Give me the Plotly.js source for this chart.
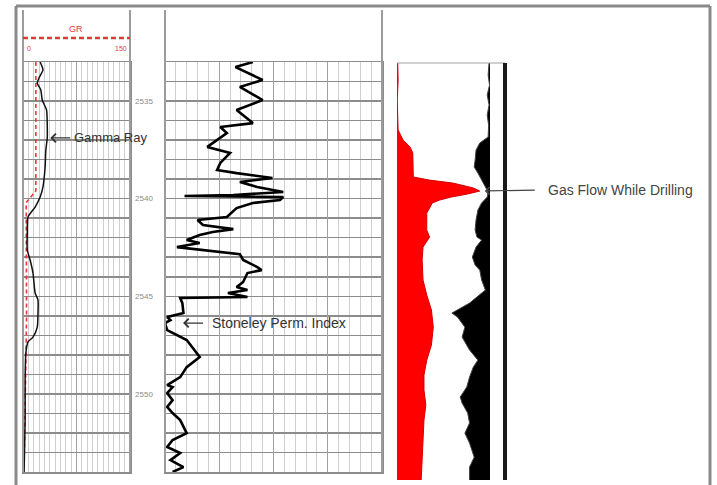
<!DOCTYPE html>
<html>
<head>
<meta charset="utf-8">
<script src="https://cdn.plot.ly/plotly-3.0.1.min.js"></script>
<style>
  html, body { margin: 0; padding: 0; background: #fff; }
  #log { width: 717px; height: 485px; }
</style>
</head>
<body>
<div id="log"></div>
<script>
// ---- Track 1: gamma ray (black) and its red dashed baseline ----
const grDepth = [2533.00, 2533.41, 2533.77, 2534.08, 2534.43, 2534.95, 2535.46, 2536.23, 2536.89, 2537.51,
  2538.38, 2539.40, 2539.92, 2540.43, 2540.94, 2541.76, 2542.63, 2543.14, 2543.81, 2544.83,
  2545.19, 2545.86, 2546.58, 2547.09, 2547.34, 2547.91, 2549.29, 2551.34, 2554.00];
const grValue = [24, 28, 23, 20, 25, 27, 33, 34, 34, 32,
  31, 28, 24, 17, 7, 6, 6, 10, 14, 17,
  21, 21, 20, 14, 7, 4, 3, 3, 1.5];
const grBaseDepth = [2533.0, 2539.6, 2540.2, 2546.0, 2554.0];
const grBaseValue = [18, 18, 4.5, 5, 1.5];

// ---- Track 2: Stoneley permeability index ----
const stDepth = [2533.00, 2533.26, 2533.92, 2534.28, 2534.95, 2535.46, 2536.13, 2536.33, 2536.64, 2537.35,
  2537.66, 2538.17, 2538.53, 2538.69, 2538.94, 2539.15, 2539.40, 2539.66, 2539.81, 2539.86,
  2539.92, 2540.07, 2540.22, 2540.48, 2540.94, 2541.09, 2541.35, 2541.45, 2541.56, 2541.71,
  2541.86, 2542.12, 2542.27, 2542.48, 2542.58, 2542.73, 2542.84, 2543.14, 2543.50, 2543.66,
  2543.81, 2544.27, 2544.53, 2544.68, 2544.83, 2545.04, 2545.09, 2545.35, 2545.86, 2546.06,
  2546.22, 2546.37, 2546.73, 2547.24, 2548.11, 2548.63, 2549.14, 2549.55, 2549.65, 2549.96,
  2550.32, 2550.67, 2550.98, 2551.34, 2552.01, 2552.36, 2552.72, 2553.03, 2553.39, 2553.75, 2554.00];
const stValue = [8.1, 6.5, 9.0, 6.9, 9.0, 6.6, 8.1, 5.1, 5.7, 3.9,
  6.0, 5.1, 4.8, 6.6, 9.9, 6.9, 8.5, 10.9, 6.3, 1.8,
  10.9, 10.6, 8.1, 6.6, 5.7, 3.0, 3.5, 5.1, 6.3, 4.4,
  3.2, 2.0, 3.2, 1.1, 2.6, 5.1, 6.9, 7.2, 8.5, 8.9,
  7.6, 7.2, 6.6, 7.6, 5.8, 7.6, 1.4, 1.6, 1.7, 0.2,
  0.5, 0.0, 0.2, 2.0, 3.2, 2.0, 1.4, 0.2, 0.7, 0.2,
  0.7, 0.2, 0.7, 1.4, 2.0, 0.7, 0.2, 1.4, 0.5, 1.7, 0.7];

// ---- Track 3: gas flow while drilling (red, from left) and companion curve (black, from right) ----
const gasDepth = [2533.05, 2533.92, 2534.95, 2535.97, 2536.48, 2537.00, 2537.35, 2537.66, 2538.53, 2538.89,
  2539.05, 2539.20, 2539.45, 2539.61, 2539.76, 2539.92, 2540.07, 2540.22, 2540.74, 2541.61,
  2541.97, 2542.48, 2543.14, 2544.17, 2544.94, 2545.70, 2546.58, 2547.50, 2548.27, 2549.03,
  2549.80, 2550.57, 2551.34, 2552.36, 2553.39, 2554.41];
const gasFlow = [0.8, 1.2, 0.3, 1.0, 1.2, 6.5, 14, 17, 17.5, 17.5,
  35, 60, 82, 89, 76, 58, 46, 38, 32, 32,
  35, 28, 27, 28, 32, 37, 39, 37, 32, 29,
  29, 31, 29, 28, 27, 26];
const bkDepth = [2533.05, 2533.67, 2534.18, 2534.69, 2535.20, 2535.72, 2536.23, 2536.84, 2537.15, 2537.51,
  2538.02, 2538.38, 2538.69, 2539.05, 2539.40, 2539.66, 2539.92, 2540.22, 2540.58, 2541.09,
  2541.61, 2541.97, 2542.12, 2542.48, 2542.99, 2543.40, 2543.66, 2544.17, 2544.68, 2545.35,
  2545.86, 2546.06, 2546.58, 2547.09, 2547.75, 2548.27, 2548.63, 2549.14, 2549.65, 2550.16,
  2550.47, 2550.98, 2551.49, 2552.01, 2552.52, 2553.24, 2553.75, 2554.41];
const bkValue = [1, 2, 0.5, 3, 1, 3, 1.5, 2, 11, 15,
  16, 17, 13, 9, 5, 2, 3, 9, 13, 15,
  16, 14, 9, 15, 19, 16, 11, 9, 5, 22,
  41, 35, 27, 30, 22, 13, 18, 22, 25, 32,
  30, 24, 22, 27, 22, 17, 22, 22];

// Text
const grLabel = 'Gamma Ray';
const stLabel = 'Stoneley Perm. Index';
const gasLabel = 'Gas Flow While Drilling';
const grUnit = 'GR';
const grScaleMin = '0';
const grScaleMax = '150';

// ---- page geometry (pixels) ----
const W = 717, H = 485;
const fx = p => p / W;
const fy = p => 1 - p / H;
const gridTop = 62, gridBot = 472, headTop = 10;
const depthTop = 2533, depthBot = 2554;
const pxPerUnit = (gridBot - gridTop) / (depthBot - depthTop);
const t1 = [23, 130], t2 = [165, 382], t3 = [397, 490];
const gasTop = 63, gasBot = 480, barX = 505;
const depthAt = p => depthTop + (p - gridTop) / pxPerUnit;

const hGrid = '#8c8c8c', vMinor = '#cfcfcf', vMajor = '#a0a0a0';
const font = 'Liberation Sans, Arial, sans-serif';

const traces = [
  { x: grBaseValue, y: grBaseDepth, xaxis: 'x', yaxis: 'y', mode: 'lines',
    line: { color: '#e5383b', width: 1.6, dash: '4px,3px' }, hoverinfo: 'skip' },
  { x: grValue, y: grDepth, xaxis: 'x', yaxis: 'y', mode: 'lines',
    line: { color: '#111', width: 1.5, shape: 'spline', smoothing: 0.6 }, hoverinfo: 'skip' },
  { x: stValue, y: stDepth, xaxis: 'x2', yaxis: 'y2', mode: 'lines',
    line: { color: '#000', width: 2.6 }, hoverinfo: 'skip' },
  { x: gasFlow, y: gasDepth, xaxis: 'x3', yaxis: 'y3', mode: 'lines', fill: 'tozerox',
    fillcolor: '#ff0000', line: { color: '#d40000', width: 1 }, hoverinfo: 'skip' },
  { x: bkValue, y: bkDepth, xaxis: 'x4', yaxis: 'y3', mode: 'lines', fill: 'tozerox',
    fillcolor: '#000', line: { color: '#444', width: 1 }, hoverinfo: 'skip' }
];

const yDom = [fy(gridBot), fy(gridTop)];
const trackX = (dom, range, major, minor) => ({
  domain: [fx(dom[0]), fx(dom[1])], range: range, showticklabels: false, ticks: '',
  zeroline: false, showgrid: true, dtick: major, tick0: 0, gridcolor: vMajor, gridwidth: 1.3,
  minor: { dtick: minor, tick0: 0, showgrid: true, gridcolor: vMinor, gridwidth: 1 },
  showline: true, mirror: true, linecolor: hGrid, linewidth: 1.5
});

const pk = gasFlow.indexOf(Math.max(...gasFlow));
const grPt = grDepth.indexOf(2536.89);
const stPt = stDepth.indexOf(2546.37);

const shapes = [];
const seg = (x0, y0, x1, y1, color, width, dash) => shapes.push({
  type: 'line', xref: 'paper', yref: 'paper', x0: fx(x0), y0: fy(y0), x1: fx(x1), y1: fy(y1),
  line: { color: color, width: width, dash: dash || 'solid' }, layer: 'above'
});
// outer frame
seg(16, 6, 710, 6, '#8a8a8a', 3);
seg(16, 6, 16, H + 5, '#8a8a8a', 3);
seg(710, 6, 710, H + 5, '#8a8a8a', 3);
// track edges running up through the header
[t1[0], t1[1], t2[0], t2[1]].forEach(x => seg(x, headTop, x, gridBot, '#9c9c9c', 2));
// gamma ray scale line in the header
seg(t1[0], 38, t1[1], 38, '#e5383b', 2.5, '5px,3px');
// gas track top edge and right-hand bar
seg(t3[0], gasTop, barX, gasTop, '#a0a0a0', 1);
seg(barX, gasTop, barX, gasBot, '#1a1a1a', 4);

const txt = (s, x, y, size, color, anchor) => ({
  text: s, xref: 'paper', yref: 'paper', x: fx(x), y: fy(y), showarrow: false,
  xanchor: anchor || 'center', yanchor: 'middle',
  font: { family: font, size: size, color: color }
});

const annotations = [
  txt(grUnit, 76, 29, 9, '#e5383b'),
  txt(grScaleMin, 25, 49, 7, '#e5383b', 'left'),
  txt(grScaleMax, 129, 49, 7, '#e5383b', 'right'),
  { text: grLabel, x: grValue[grPt], y: grDepth[grPt], xref: 'x', yref: 'y',
    showarrow: true, arrowhead: 4, arrowsize: 1.3, arrowwidth: 1.3, arrowcolor: '#333',
    axref: 'pixel', ayref: 'pixel', ax: 23, ay: 0, standoff: 3,
    xanchor: 'left', yanchor: 'middle', borderpad: 3,
    font: { family: font, size: 13, color: '#333' } },
  { text: stLabel, x: stValue[stPt], y: stDepth[stPt], xref: 'x2', yref: 'y2',
    showarrow: true, arrowhead: 4, arrowsize: 1.3, arrowwidth: 1.3, arrowcolor: '#333',
    axref: 'pixel', ayref: 'pixel', ax: 38, ay: 0, standoff: 18,
    xanchor: 'left', yanchor: 'middle', borderpad: 8,
    font: { family: font, size: 14, color: '#333' } },
  { text: gasLabel, x: gasFlow[pk], y: gasDepth[pk], xref: 'x3', yref: 'y3',
    showarrow: true, arrowhead: 4, arrowsize: 1.2, arrowwidth: 1.2, arrowcolor: '#444',
    axref: 'pixel', ayref: 'pixel', ax: 55, ay: -1, standoff: 5,
    xanchor: 'left', yanchor: 'middle', borderpad: 12,
    font: { family: font, size: 14, color: '#444' } }
];

const layout = {
  width: W, height: H, margin: { l: 0, r: 0, t: 0, b: 0 },
  paper_bgcolor: '#fff', plot_bgcolor: 'rgba(0,0,0,0)', showlegend: false,
  xaxis: Object.assign(trackX(t1, [0, 150], 75, 7.5), { anchor: 'y' }),
  yaxis: { domain: yDom, range: [depthBot, depthTop], anchor: 'x', showticklabels: false, ticks: '',
    zeroline: false, dtick: 1, tick0: depthTop, gridcolor: hGrid, gridwidth: 1.5,
    showline: true, mirror: true, linecolor: hGrid, linewidth: 1.5 },
  xaxis2: Object.assign(trackX(t2, [0, 20], 5, 1), { anchor: 'y2' }),
  yaxis2: { domain: yDom, range: [depthBot, depthTop], anchor: 'x2', zeroline: false,
    tick0: 2535, dtick: 5, gridcolor: hGrid, gridwidth: 1.5, ticks: '', ticklabelstandoff: 9,
    tickfont: { family: font, size: 8, color: '#8a8a8a' },
    minor: { dtick: 1, tick0: depthTop, showgrid: true, gridcolor: hGrid, gridwidth: 1.5 },
    showline: true, mirror: true, linecolor: hGrid, linewidth: 1.5 },
  xaxis3: { domain: [fx(t3[0]), fx(t3[1])], range: [0, 100], anchor: 'y3', visible: false },
  xaxis4: { overlaying: 'x3', range: [100, 0], anchor: 'y3', visible: false },
  yaxis3: { domain: [fy(gasBot), fy(gasTop)], range: [depthAt(gasBot), depthAt(gasTop)],
    anchor: 'x3', visible: false },
  shapes: shapes,
  annotations: annotations
};

Plotly.newPlot('log', traces, layout, { displayModeBar: false, staticPlot: true });
</script>
</body>
</html>
